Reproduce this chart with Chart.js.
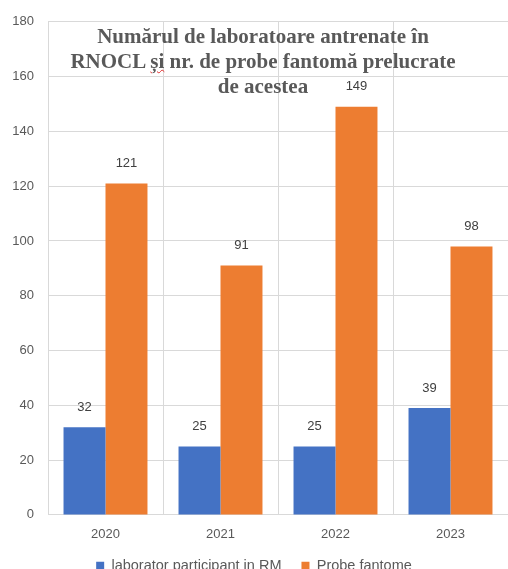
<!DOCTYPE html>
<html>
<head>
<meta charset="utf-8">
<script src="https://cdn.jsdelivr.net/npm/chart.js@4"></script>
<style>
    html, body { margin: 0; padding: 0; background: #fff; overflow: hidden; }
    #wrap { position: relative; width: 508px; height: 569px; overflow: hidden; }
    #title {
        position: absolute;
        left: 13px;
        top: 24px;
        width: 500px;
        text-align: center;
        font-family: "Liberation Serif", serif;
        font-weight: bold;
        font-size: 21px;
        line-height: 25px;
        color: #595959;
        pointer-events: none;
    }
    #title .typo { text-decoration: underline wavy #e03030; text-decoration-thickness: 1px; }
</style>
</head>
<body>
<div id="wrap">
    <canvas id="chart" width="508" height="583"></canvas>
    <div id="title">Numărul de laboratoare antrenate în<br>RNOCL <span class="typo">și</span> nr. de probe fantomă prelucrate<br>de acestea</div>
</div>
<script>
// values
const years = ['2020', '2021', '2022', '2023'];
const labsParticipating = [32, 25, 25, 39];
const phantomSamples = [121, 91, 149, 98];

const FONT = 'Liberation Sans, Arial, sans-serif';
const TEXT = '#595959';
const GRID = '#d9d9d9';

// value labels above every bar
const barLabels = {
    id: 'barLabels',
    afterDatasetsDraw(chart) {
        const ctx = chart.ctx;
        ctx.save();
        ctx.font = '13px ' + FONT;
        ctx.fillStyle = '#404040';
        ctx.textAlign = 'center';
        ctx.textBaseline = 'middle';
        chart.data.datasets.forEach((ds, i) => {
            chart.getDatasetMeta(i).data.forEach((bar, j) => {
                ctx.fillText(String(ds.data[j]), bar.x, bar.y - 20);
            });
        });
        ctx.restore();
    }
};

new Chart(document.getElementById('chart'), {
    type: 'bar',
    data: {
        labels: years,
        datasets: [
            {
                label: 'laborator participant in RM',
                data: labsParticipating,
                backgroundColor: '#4472C4',
                borderWidth: 0
            },
            {
                label: 'Probe fantome',
                data: phantomSamples,
                backgroundColor: '#ED7D31',
                borderWidth: 0
            }
        ]
    },
    options: {
        responsive: false,
        animation: false,
        layout: { padding: { top: 12, right: 0, left: 0, bottom: 0 } },
        datasets: {
            bar: { categoryPercentage: 0.73, barPercentage: 1 }
        },
        plugins: {
            title: { display: false },
            tooltip: { enabled: false },
            legend: {
                position: 'bottom',
                labels: {
                    boxWidth: 8,
                    boxHeight: 8,
                    padding: 20,
                    color: TEXT,
                    font: { family: FONT, size: 14.5 }
                }
            }
        },
        scales: {
            x: {
                grid: { color: GRID, drawTicks: false, offset: true },
                border: { color: GRID },
                ticks: { color: TEXT, padding: 12, font: { family: FONT, size: 13 } },
                afterFit: (scale) => { scale.height = scale.height - 16; }
            },
            y: {
                min: 0,
                max: 180,
                grid: { color: GRID, drawTicks: false },
                border: { display: false },
                ticks: { stepSize: 20, color: TEXT, padding: 14, font: { family: FONT, size: 13 } },
                afterFit: (scale) => { scale.width = 48; }
            }
        }
    },
    plugins: [barLabels]
});
</script>
</body>
</html>
